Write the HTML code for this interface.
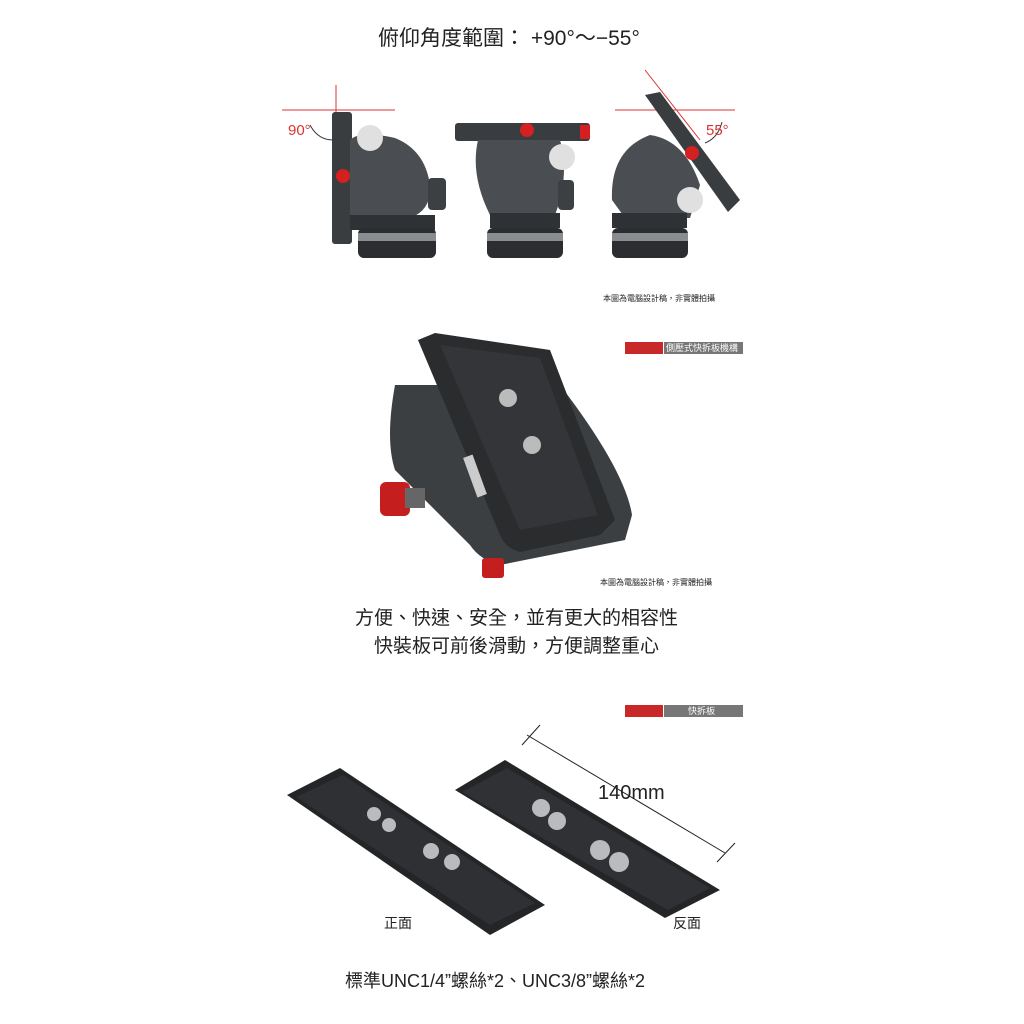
<!DOCTYPE html>
<html><head><meta charset="utf-8"><style>
body{margin:0;width:1024px;height:1024px;background:#fff;position:relative;overflow:hidden;font-family:"Liberation Sans","Noto Sans CJK TC",sans-serif;color:#222}
.t{position:absolute;white-space:nowrap}
svg{position:absolute;left:0;top:0}
</style></head><body>
<svg width="1024" height="1024">
<!-- top guide lines -->
<line x1="282" y1="110" x2="395" y2="110" stroke="#d33" stroke-width="1"/>
<line x1="336" y1="85" x2="336" y2="140" stroke="#d33" stroke-width="1"/>
<line x1="615" y1="110" x2="735" y2="110" stroke="#d33" stroke-width="1"/>
<line x1="645" y1="70" x2="700" y2="140" stroke="#d33" stroke-width="1"/>
<path d="M310 125 Q318 140 333 140" fill="none" stroke="#333"/>
<path d="M722 122 Q718 138 705 143" fill="none" stroke="#333"/>
<!-- head 1 -->
<rect x="332" y="112" width="20" height="132" rx="3" fill="#3a3d40"/>
<path d="M350 140 Q360 130 395 138 Q425 150 430 185 Q432 210 410 218 L350 218Z" fill="#4a4e52"/>
<rect x="428" y="178" width="18" height="32" rx="4" fill="#3d4043"/>
<rect x="350" y="215" width="85" height="15" fill="#2f3235"/>
<rect x="358" y="228" width="78" height="30" rx="6" fill="#2b2d30"/>
<rect x="358" y="233" width="78" height="8" fill="#8a8d90"/>
<circle cx="343" cy="176" r="7" fill="#d42020"/>
<circle cx="370" cy="138" r="13" fill="#e0e0e0"/>
<!-- head 2 -->
<rect x="455" y="123" width="135" height="18" rx="3" fill="#3a3d40"/>
<path d="M478 140 L560 140 Q570 175 555 215 L490 215 Q470 175 478 140Z" fill="#4a4e52"/>
<rect x="558" y="180" width="16" height="30" rx="4" fill="#3d4043"/>
<rect x="490" y="213" width="70" height="15" fill="#2f3235"/>
<rect x="487" y="228" width="76" height="30" rx="6" fill="#2b2d30"/>
<rect x="487" y="233" width="76" height="8" fill="#8a8d90"/>
<circle cx="527" cy="130" r="7" fill="#d42020"/>
<circle cx="562" cy="157" r="13" fill="#e0e0e0"/>
<rect x="580" y="125" width="10" height="14" fill="#d42020"/>
<!-- head 3 -->
<path d="M645 95 L660 92 L740 200 L728 212Z" fill="#3a3d40"/>
<path d="M612 200 Q610 150 650 135 Q685 140 700 185 L690 218 L625 218Z" fill="#4a4e52"/>
<rect x="612" y="213" width="75" height="15" fill="#2f3235"/>
<rect x="612" y="228" width="76" height="30" rx="6" fill="#2b2d30"/>
<rect x="612" y="233" width="76" height="8" fill="#8a8d90"/>
<circle cx="692" cy="153" r="7" fill="#d42020"/>
<circle cx="690" cy="200" r="13" fill="#e0e0e0"/>
<!-- legend bars -->
<rect x="625" y="342" width="38" height="12" fill="#c82828"/>
<rect x="664" y="342" width="79" height="12" fill="#777"/>
<rect x="625" y="705" width="38" height="12" fill="#c82828"/>
<rect x="664" y="705" width="79" height="12" fill="#777"/>
<!-- middle plate mount -->
<path d="M395 385 L560 385 Q625 470 632 515 L625 540 L500 565 Q480 560 470 545 L395 470 Q385 440 395 385Z" fill="#3c3f42"/>
<path d="M418 340 L435 333 L550 350 L615 520 L600 535 L520 552 Q505 548 500 535Z" fill="#2a2c2e"/>
<path d="M440 345 L540 358 L598 515 L520 530Z" fill="#333538"/>
<circle cx="508" cy="398" r="9" fill="#bbb"/>
<circle cx="532" cy="445" r="9" fill="#bbb"/>
<rect x="470" y="455" width="10" height="42" fill="#ccc" transform="rotate(-20 475 476)"/>
<rect x="380" y="482" width="30" height="34" rx="6" fill="#c41e1e"/>
<rect x="405" y="488" width="20" height="20" fill="#666"/>
<rect x="482" y="558" width="22" height="20" rx="3" fill="#c41e1e"/>
<!-- bottom plates -->
<path d="M287 795 L340 768 L545 905 L490 935Z" fill="#232527"/>
<path d="M296 797 L343 775 L535 903 L490 925Z" fill="#2e3033"/>
<path d="M455 790 L505 760 L720 890 L665 918Z" fill="#232527"/>
<path d="M462 792 L507 768 L710 888 L668 910Z" fill="#2f3134"/>
<g fill="#b9bbbd">
<circle cx="374" cy="814" r="7"/><circle cx="389" cy="825" r="7"/><circle cx="431" cy="851" r="8"/><circle cx="452" cy="862" r="8"/>
<circle cx="541" cy="808" r="9"/><circle cx="557" cy="821" r="9"/><circle cx="600" cy="850" r="10"/><circle cx="619" cy="862" r="10"/>
</g>
<!-- dimension -->
<line x1="527" y1="735" x2="725" y2="853" stroke="#222"/>
<line x1="522" y1="745" x2="540" y2="725" stroke="#222"/>
<line x1="717" y1="862" x2="735" y2="843" stroke="#222"/>
</svg>
<div class="t" style="left:378px;top:22px;font-size:21px">俯仰角度範圍： +90°～−55°</div>
<div class="t" style="left:288px;top:122px;font-size:15px;color:#d33">90°</div>
<div class="t" style="left:706px;top:122px;font-size:15px;color:#d33">55°</div>
<div class="t" style="left:603px;top:293px;font-size:8px">本圖為電腦設計稿，非實體拍攝</div>
<div class="t" style="left:666px;top:342px;font-size:9px;color:#fff;line-height:12px">側壓式快拆板機構</div>
<div class="t" style="left:600px;top:577px;font-size:8px">本圖為電腦設計稿，非實體拍攝</div>
<div class="t" style="left:355px;top:603px;font-size:19px">方便、快速、安全，並有更大的相容性</div>
<div class="t" style="left:374px;top:631px;font-size:19px">快裝板可前後滑動，方便調整重心</div>
<div class="t" style="left:688px;top:705px;font-size:9px;color:#fff;line-height:12px">快拆板</div>
<div class="t" style="left:598px;top:782px;font-size:20px">140mm</div>
<div class="t" style="left:384px;top:913px;font-size:14px">正面</div>
<div class="t" style="left:673px;top:913px;font-size:14px">反面</div>
<div class="t" style="left:345px;top:967px;font-size:18px">標準UNC1/4”螺絲*2、UNC3/8”螺絲*2</div>
</body></html>
